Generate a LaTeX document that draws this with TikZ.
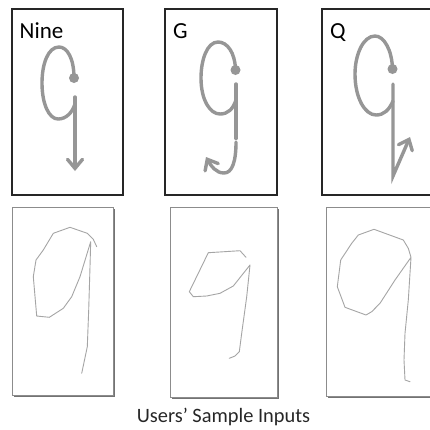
\documentclass[tikz,border=0pt]{standalone}
\usepackage{fontspec}
\setmainfont{Carlito}
\usetikzlibrary{arrows.meta}
\definecolor{glyphc}{RGB}{150,150,150}
\definecolor{sketchc}{RGB}{165,165,165}
\tikzset{
  topbox/.style={draw=black!85, line width=1.6pt, rectangle, inner sep=0pt, fill=white},
  lowbox/.style={draw=black!45, line width=0.8pt, rectangle, inner sep=0pt, fill=white},
  shadowbox/.style={fill=black!55, draw=none, rectangle, inner sep=0pt},
  glyph/.style={draw=glyphc, line width=3.4pt, line cap=round},
  barb/.style={-{Straight Barb[length=9pt,width=15pt,line cap=round]}},
  sketch/.style={draw=sketchc, line width=0.9pt, line join=round, line cap=round},
  lab/.style={font=\fontsize{23}{25}\selectfont, anchor=base west, inner sep=0pt},
}
\begin{document}
\begin{tikzpicture}[x=1pt,y=-1pt]
\useasboundingbox (0,0) rectangle (430,429);
% top boxes
\node[topbox, minimum width=111pt, minimum height=186pt] (b1) at (67.5,102) {};
\node[topbox, minimum width=112pt, minimum height=186pt] (b2) at (221,102) {};
\node[topbox, minimum width=112pt, minimum height=186pt] (b3) at (378,102) {};
\node[lab] (l1) at (19.5,38) {Nine};
\node[lab] (l2) at (173,38) {G};
\node[lab] (l3) at (330,38) {Q};
% bottom boxes with shadows
\node[shadowbox, minimum width=101pt, minimum height=188pt] (s4) at (64,302.5) {};
\node[lowbox, minimum width=101pt, minimum height=188pt] (b4) at (62.5,301) {};
\node[shadowbox, minimum width=107pt, minimum height=190pt] (s5) at (225,303.5) {};
\node[lowbox, minimum width=107pt, minimum height=190pt] (b5) at (223.5,302) {};
\node[shadowbox, minimum width=106pt, minimum height=189pt] (s6) at (380.5,303) {};
\node[lowbox, minimum width=106pt, minimum height=189pt] (b6) at (379,301.5) {};
% caption
\node[font=\fontsize{20.4}{22}\selectfont, inner sep=0pt, text=black!85] (cap) at (223.5,416.5) {Users’ Sample Inputs};
% glyph Nine
\draw[glyph] (74,78) .. controls (74,58) and (67,47) .. (59,47) .. controls (48,47) and (42,64) .. (42,83) .. controls (42,104) and (49,119) .. (58,119) .. controls (66,119) and (72,113) .. (75,104);
\draw[glyph,barb] (75,97) -- (75,171);
\fill[glyphc] (74,78) circle (5pt);
% glyph G
\draw[glyph] (235.5,70) .. controls (235,52) and (227,42) .. (218,42) .. controls (207,42) and (201,60) .. (201,78) .. controls (201,100) and (210,114) .. (220,114) .. controls (228,114) and (233,109) .. (236,100);
\draw[glyph] (236,84) -- (236,138.5);
\draw[glyph,barb] (236,142) .. controls (236,162) and (232,173) .. (224,173) .. controls (216,173) and (211,166) .. (206,157);
\fill[glyphc] (235.5,70) circle (5pt);
% glyph Q
\draw[glyph] (392.5,69) .. controls (392,50) and (384,36) .. (375,36) .. controls (363,36) and (355,55) .. (355,74) .. controls (355,98) and (365,115) .. (376,115) .. controls (384,115) and (389,110) .. (393,101);
\draw[glyph,barb] (393,84) -- (393,176) -- (410,137);
\fill[glyphc] (392.5,69) circle (5pt);
% sketches
\draw[sketch] (96.7,246.7) -- (93.3,239.3) -- (87.3,233.3) -- (70,227.3) -- (53.3,233.3) -- (43.3,250) -- (36,260) -- (33.3,276.7) -- (36.7,316) -- (49.3,317.3) -- (63.3,308.3) -- (71.7,296.7) -- (80,276.7) -- (90.7,241.7) -- (90,266.7) -- (88.7,310) -- (87.3,346.7) -- (81.7,373.3);
\draw[sketch] (246,257.3) -- (240,250.7) -- (208.3,252.7) -- (189.3,291.7) -- (193.3,296.7) -- (206.7,296) -- (220,293.3) -- (233.3,286) -- (250,265) -- (246.7,296.7) -- (241.7,333.3) -- (239.3,351.7) -- (235,356) -- (229.3,358.3);
\draw[sketch] (411,257.3) -- (408.3,248.3) -- (403.3,240) -- (374,229.3) -- (358.3,235) -- (351.7,243.3) -- (340.7,260) -- (337.3,286.7) -- (345,307.3) -- (366,315) -- (371.7,311.7) -- (380,303.3) -- (395,280) -- (411,257.3) -- (408.3,300) -- (405,333.3) -- (404,360) -- (405,380) -- (410,381.7);
\end{tikzpicture}
\end{document}
